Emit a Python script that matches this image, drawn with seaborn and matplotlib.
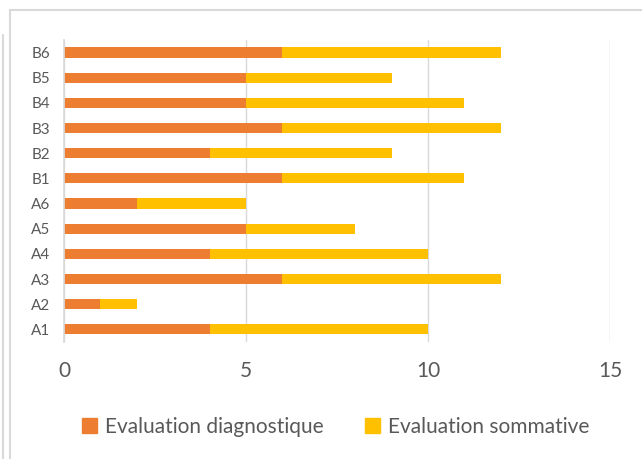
import pandas as pd
import seaborn as sns
import matplotlib.pyplot as plt
from matplotlib.patches import Rectangle

# data (bottom to top)
groupes = ['A1', 'A2', 'A3', 'A4', 'A5', 'A6', 'B1', 'B2', 'B3', 'B4', 'B5', 'B6']
diagnostique = [4, 1, 6, 4, 5, 2, 6, 4, 6, 5, 5, 6]
sommative = [6, 1, 6, 6, 3, 3, 5, 5, 6, 6, 4, 6]

df = pd.DataFrame({'groupe': groupes, 'diag': diagnostique, 'somm': sommative})
df['total'] = df['diag'] + df['somm']

sns.set_theme(style='white')
plt.rcParams['font.family'] = ['Lato', 'DejaVu Sans']

fig = plt.figure(figsize=(6.42, 4.59), dpi=100)
ax = fig.add_axes([0.0997, 0.255, 0.8503, 0.658])

order = groupes[::-1]
sns.barplot(data=df, y='groupe', x='total', order=order, color='#FFC000',
            width=0.4, saturation=1, linewidth=0, ax=ax, orient='h')
sns.barplot(data=df, y='groupe', x='diag', order=order, color='#ED7D31',
            width=0.4, saturation=1, linewidth=0, ax=ax, orient='h')

ax.set_xlim(0, 15)
ax.set_xticks([0, 5, 10, 15])
ax.set_xlabel('')
ax.set_ylabel('')
ax.grid(axis='x', color='#D9D9D9', linewidth=1)
ax.set_axisbelow(True)
for s in ['top', 'right', 'bottom']:
    ax.spines[s].set_visible(False)
ax.spines['left'].set_color('#D9D9D9')
ax.tick_params(axis='x', labelsize=15, colors='#595959', length=0, pad=14)
ax.tick_params(axis='y', labelsize=11, colors='#595959', length=0, pad=10)

handles = [Rectangle((0, 0), 1, 1, color='#ED7D31'), Rectangle((0, 0), 1, 1, color='#FFC000')]
fig.legend(handles, ['Evaluation diagnostique', 'Evaluation sommative'],
           loc='center', bbox_to_anchor=(0.523, 0.07), ncol=2, frameon=False,
           fontsize=15, labelcolor='#595959', handlelength=0.7, handleheight=0.7,
           columnspacing=2.0, handletextpad=0.4)

# outer frame lines
fig.add_artist(plt.Line2D([10/642, 10/642], [0, 1 - 10/459], color='#D9D9D9', lw=1.5))
fig.add_artist(plt.Line2D([10/642, 1], [1 - 10/459, 1 - 10/459], color='#D9D9D9', lw=1.5))
fig.add_artist(plt.Line2D([3/642, 3/642], [0, 1 - 35/459], color='#D9D9D9', lw=1.5))

fig.savefig('out.png', dpi=100)
